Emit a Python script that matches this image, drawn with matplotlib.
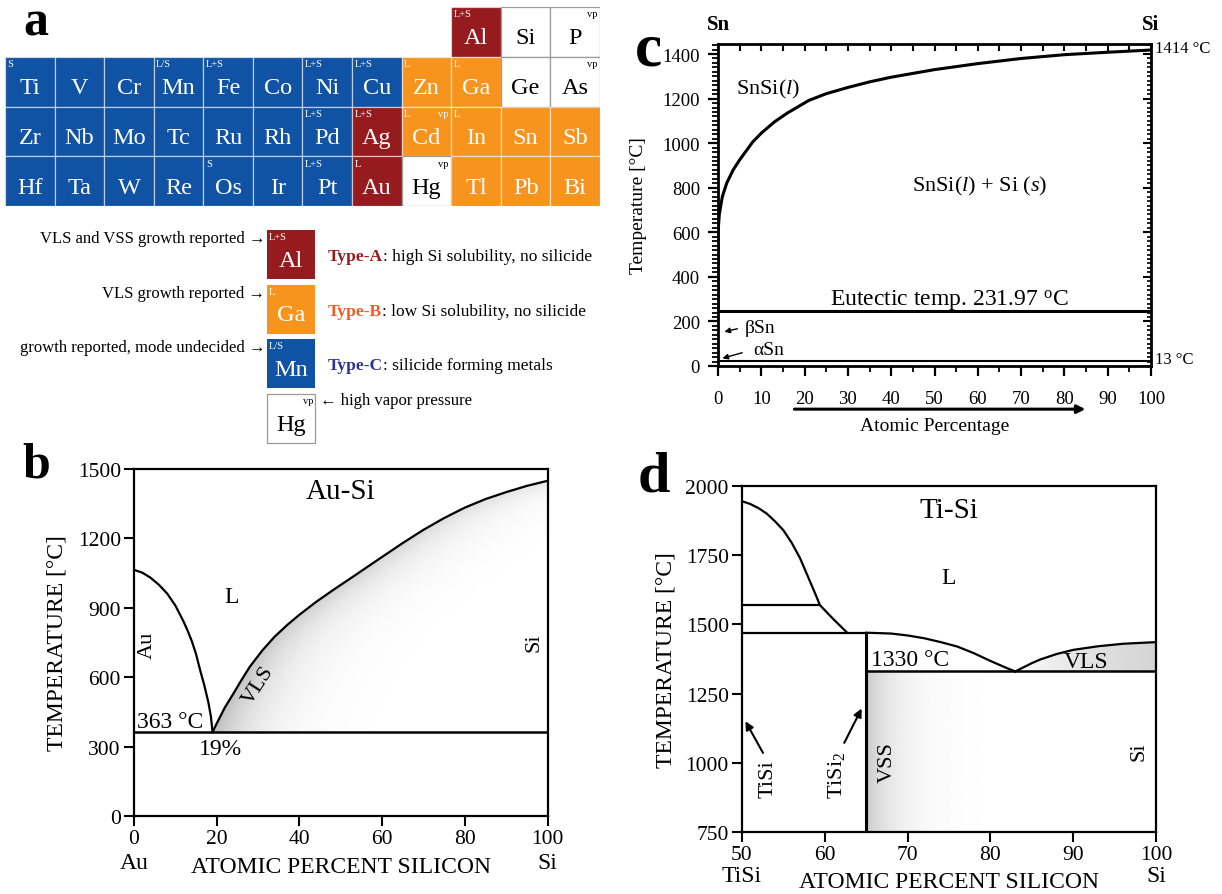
import numpy as np
import matplotlib.pyplot as plt
from matplotlib.patches import Rectangle, Polygon

plt.rcParams['font.family'] = ['Liberation Serif', 'DejaVu Serif']
plt.rcParams['mathtext.fontset'] = 'custom'
plt.rcParams['mathtext.rm'] = 'Liberation Serif'
plt.rcParams['mathtext.it'] = 'Liberation Serif:italic'

W, H = 1222, 895

# ---------------- panel a : periodic table ----------------
table_rows = [
    ['', '', '', '', '', '', '', '', '', 'Al', 'Si', 'P'],
    ['Ti', 'V', 'Cr', 'Mn', 'Fe', 'Co', 'Ni', 'Cu', 'Zn', 'Ga', 'Ge', 'As'],
    ['Zr', 'Nb', 'Mo', 'Tc', 'Ru', 'Rh', 'Pd', 'Ag', 'Cd', 'In', 'Sn', 'Sb'],
    ['Hf', 'Ta', 'W', 'Re', 'Os', 'Ir', 'Pt', 'Au', 'Hg', 'Tl', 'Pb', 'Bi'],
]
# A = type-A (red), B = type-B (orange), C = type-C (blue), N = plain
table_types = [
    '.........ANN',
    'CCCCCCCCBBNN',
    'CCCCCCCABBBB',
    'CCCCCCCANBBB',
]
growth_tags = {'Al': 'L+S', 'Ti': 'S', 'Mn': 'L/S', 'Fe': 'L+S', 'Ni': 'L+S',
               'Cu': 'L+S', 'Zn': 'L', 'Ga': 'L', 'Pd': 'L+S', 'Ag': 'L+S',
               'Cd': 'L', 'In': 'L', 'Os': 'S', 'Pt': 'L+S', 'Au': 'L'}
vapor_tags = ['P', 'As', 'Cd', 'Hg']

type_colors = {'A': '#961b1e', 'B': '#f7941e', 'C': '#1052a4', 'N': 'white'}
type_text_colors = {'A': '#961b1e', 'B': '#f15a24', 'C': '#2e3192'}

legend_symbols = ['Al', 'Ga', 'Mn', 'Hg']
legend_types = ['A', 'B', 'C', 'N']
legend_tags = ['L+S', 'L', 'L/S', '']
legend_left = ['VLS and VSS growth reported', 'VLS growth reported',
               'growth reported, mode undecided', '']
legend_names = ['Type-A', 'Type-B', 'Type-C', '']
legend_desc = [': high Si solubility, no silicide', ': low Si solubility, no silicide',
               ': silicide forming metals', '']

# ---------------- panel b : Au-Si ----------------
b_au_x = [0, 2, 4, 6, 8, 10, 12, 13, 14, 15, 16, 17, 18, 18.6, 19]
b_au_T = [1064, 1052, 1030, 1000, 962, 910, 840, 800, 755, 700, 630, 565, 490, 430, 363]
b_si_x = [19, 20, 22, 24, 26, 28, 31, 34, 37, 40, 44, 48, 53, 60, 65, 70, 75, 80, 85, 90, 95, 100]
b_si_T = [363, 400, 470, 528, 588, 645, 715, 775, 825, 870, 925, 975, 1035, 1120, 1180, 1237,
          1288, 1333, 1370, 1400, 1427, 1449]
b_eutectic = 363

# ---------------- panel c : Sn-Si ----------------
c_x = [0, 0, 0.3, 1, 2, 3.5, 5, 6.5, 8, 10, 13, 16, 21, 25, 30, 35, 40, 50, 60, 70, 80, 90, 100]
c_T = [248, 600, 680, 760, 820, 880, 925, 965, 1005, 1045, 1095, 1135, 1192, 1222, 1250, 1275,
       1296, 1330, 1357, 1380, 1397, 1408, 1418]
c_eutectic = 248
c_alpha = 22

# ---------------- panel d : Ti-Si ----------------
d_top_x = [50, 51, 52, 53, 54, 55, 56, 57, 58, 59, 59.4, 61, 62.7]
d_top_T = [1945, 1935, 1920, 1900, 1872, 1840, 1795, 1740, 1670, 1600, 1570, 1520, 1470]
d_mid_x = [65, 68, 70, 72, 74, 76, 78, 80, 82, 83]
d_mid_T = [1470, 1467, 1460, 1450, 1436, 1420, 1396, 1368, 1342, 1330]
d_right_x = [83, 84, 85, 86, 88, 90, 93, 96, 100]
d_right_T = [1330, 1345, 1360, 1373, 1393, 1408, 1421, 1430, 1436]
d_level_upper = 1570
d_level_peritectic = 1470
d_eutectic = 1330
d_tisi2 = 65

fig = plt.figure(figsize=(W / 100, H / 100), dpi=100)


def fig_axes(x0, y0, x1, y1):
    return fig.add_axes([x0 / W, 1 - y1 / H, (x1 - x0) / W, (y1 - y0) / H])


# ---- table
ax_t = fig_axes(5, 8, 600, 207)
ax_t.set_xlim(0, 12)
ax_t.set_ylim(4, 0)
ax_t.axis('off')
for i, row in enumerate(table_rows):
    for j, sym in enumerate(row):
        kind = table_types[i][j]
        if kind == '.':
            continue
        edge = '#9a9a9a' if kind == 'N' else (1, 1, 1, 0.55)
        ax_t.add_patch(Rectangle((j, i), 1, 1, fc=type_colors[kind], ec=edge, lw=0.9))
        tc = 'black' if kind == 'N' else 'white'
        ax_t.text(j + 0.5, i + 0.62, sym, ha='center', va='center', size=17.5, color=tc)
        if sym in growth_tags:
            ax_t.text(j + 0.05, i + 0.05, growth_tags[sym], ha='left', va='top', size=7.5, color=tc)
        if sym in vapor_tags:
            ax_t.text(j + 0.95, i + 0.05, 'vp', ha='right', va='top', size=7.5, color=tc)

# ---- legend of panel a
ax_l = fig_axes(0, 210, 620, 450)
ax_l.set_xlim(0, 620)
ax_l.set_ylim(450, 210)
ax_l.axis('off')
for k, sym in enumerate(legend_symbols):
    top = 231 + k * 54.7
    kind = legend_types[k]
    edge = '#9a9a9a' if kind == 'N' else 'none'
    ax_l.add_patch(Rectangle((267, top), 48, 49, fc=type_colors[kind], ec=edge, lw=0.9))
    tc = 'black' if kind == 'N' else 'white'
    ax_l.text(291, top + 30, sym, ha='center', va='center', size=17.5, color=tc)
    if legend_tags[k]:
        ax_l.text(269, top + 2, legend_tags[k], ha='left', va='top', size=7.5, color=tc)
    if legend_left[k]:
        ax_l.text(265, top + 8, legend_left[k] + ' \u2192', ha='right', va='center', size=12)
    if legend_names[k]:
        t1 = ax_l.text(328, top + 26, legend_names[k], ha='left', va='center', size=12.5,
                       weight='bold', color=type_text_colors[kind])
        ax_l.annotate(legend_desc[k], xy=(1, 0), xycoords=t1, ha='left', va='bottom', size=12.5)
    if kind == 'N':
        ax_l.text(313, top + 2, 'vp', ha='right', va='top', size=7.5)
        ax_l.text(320, top + 6, '\u2190 high vapor pressure', ha='left', va='center', size=12)

fig.text(36 / W, 1 - 24 / H, 'a', ha='center', va='center', size=36, weight='bold')
fig.text(36 / W, 1 - 466 / H, 'b', ha='center', va='center', size=36, weight='bold')
fig.text(648 / W, 1 - 50 / H, 'c', ha='center', va='center', size=44, weight='bold')
fig.text(654 / W, 1 - 478 / H, 'd', ha='center', va='center', size=42, weight='bold')


def phase_axes(ax):
    for s in ax.spines.values():
        s.set_linewidth(1.6)
    ax.tick_params(direction='out', length=7, width=1.5, labelsize=15.5, pad=2.5,
                   top=False, right=False)


# ---- panel b
ax_b = fig_axes(134, 470, 547.5, 817)
ax_b.set_xlim(0, 100)
ax_b.set_ylim(0, 1500)
ax_b.set_xticks(np.arange(0, 101, 20))
ax_b.set_yticks(np.arange(0, 1501, 300))
phase_axes(ax_b)

gx, gT = np.meshgrid(np.linspace(19, 100, 400), np.linspace(b_eutectic, 1500, 400))
dist = np.clip(gx - np.interp(gT, b_si_T, b_si_x), 0, None)
shade = 0.26 * np.exp(-dist / 9.0) * (1 - 0.55 * (gT - b_eutectic) / 1100)
img = ax_b.imshow(1 - shade, extent=[19, 100, b_eutectic, 1500], origin='lower',
                  aspect='auto', cmap='gray', vmin=0, vmax=1, interpolation='bilinear', zorder=1)
clip_b = Polygon(list(zip(b_si_x, b_si_T)) + [(100, b_eutectic)], closed=True,
                 fc='none', ec='none', transform=ax_b.transData)
ax_b.add_patch(clip_b)
img.set_clip_path(clip_b)

ax_b.plot(b_au_x, b_au_T, color='black', lw=1.6, zorder=3)
ax_b.plot(b_si_x, b_si_T, color='black', lw=1.6, zorder=3)
ax_b.axhline(b_eutectic, color='black', lw=1.8, zorder=3)

ax_b.text(50, 1406, 'Au-Si', ha='center', va='center', size=21)
ax_b.text(23.6, 947, 'L', ha='center', va='center', size=17)
ax_b.text(3.1, 744, 'Au', ha='center', va='center', size=16, rotation=90)
ax_b.text(96.7, 753, 'Si', ha='center', va='center', size=16, rotation=90)
ax_b.text(30.2, 568, 'VLS', ha='center', va='center', size=16, rotation=57)
ax_b.text(8.8, 408, '363 \u00b0C', ha='center', va='center', size=17)
ax_b.text(20.8, 290, '19%', ha='center', va='center', size=17)

xtr = ax_b.get_xaxis_transform()
ax_b.text(0, -0.133, 'Au', transform=xtr, ha='center', va='center', size=17)
ax_b.text(100, -0.133, 'Si', transform=xtr, ha='center', va='center', size=17)
ax_b.text(50, -0.145, 'ATOMIC PERCENT SILICON', transform=xtr, ha='center', va='center', size=17)
ax_b.text(-0.186, 0.5, 'TEMPERATURE [\u00b0C]', transform=ax_b.transAxes, ha='center',
          va='center', size=17, rotation=90)

# ---- panel c
ax_c = fig_axes(718, 45, 1151, 367)
ax_c.set_xlim(0, 100)
ax_c.set_ylim(0, 1445)
for s in ax_c.spines.values():
    s.set_linewidth(2)
major_x, minor_x = np.arange(0, 101, 10), np.arange(0, 101, 5)
major_y, minor_y = np.arange(0, 1401, 200), np.arange(0, 1441, 20)
ax_c.set_xticks(major_x)
ax_c.set_xticks(minor_x, minor=True)
ax_c.set_yticks(major_y)
ax_c.set_yticks(minor_y, minor=True)
ax_c.tick_params(which='major', direction='out', length=7, width=1.6, labelsize=13.5)
ax_c.tick_params(axis='x', which='major', pad=10)
ax_c.tick_params(axis='y', which='major', pad=6)
ax_c.tick_params(which='minor', direction='out', length=4, width=1.3)
sec_x = ax_c.secondary_xaxis('top')
sec_x.set_xticks(major_x, labels=[])
sec_x.set_xticks(minor_x, minor=True)
sec_x.tick_params(which='both', direction='in', length=5, width=1.5)
sec_y = ax_c.secondary_yaxis('right')
sec_y.set_yticks(major_y, labels=[])
sec_y.set_yticks(minor_y, minor=True)
sec_y.tick_params(which='major', direction='in', length=6, width=1.5)
sec_y.tick_params(which='minor', direction='in', length=3, width=1.2)

ax_c.plot(c_x, c_T, color='black', lw=2.2)
ax_c.axhline(c_eutectic, color='black', lw=2.2)
ax_c.axhline(c_alpha, color='black', lw=1.5)

ax_c.text(11.5, 1246, r'SnSi($\mathit{l}$)', ha='center', va='center', size=16)
ax_c.text(60.5, 811, r'SnSi($\mathit{l}$) + Si ($\mathit{s}$)', ha='center', va='center', size=16)
ax_c.text(53.5, 300, r'Eutectic temp. 231.97 $^{\mathrm{o}}$C', ha='center', va='center', size=17)
ax_c.text(6.2, 175, '\u03b2Sn', ha='left', va='center', size=14)
ax_c.text(8.1, 72, '\u03b1Sn', ha='left', va='center', size=14)
ax_c.annotate('', xy=(0.85, 151), xytext=(5.1, 170),
              arrowprops=dict(arrowstyle='-|>', lw=1, color='black', mutation_scale=8))
ax_c.annotate('', xy=(0.4, 31), xytext=(6.2, 63),
              arrowprops=dict(arrowstyle='-|>', lw=1, color='black', mutation_scale=8))

ytr = ax_c.get_yaxis_transform()
ax_c.text(1.01, 1427, '1414 \u00b0C', transform=ytr, ha='left', va='center', size=12)
ax_c.text(1.01, 31, '13 \u00b0C', transform=ytr, ha='left', va='center', size=12)
xtc = ax_c.get_xaxis_transform()
ax_c.text(0, 1.062, 'Sn', transform=xtc, ha='center', va='center', size=15, weight='bold')
ax_c.text(100, 1.062, 'Si', transform=xtc, ha='center', va='center', size=15, weight='bold')
ax_c.annotate('', xy=(85.5, -0.134), xytext=(17, -0.134), xycoords=xtc, textcoords=xtc,
              arrowprops=dict(arrowstyle='-|>', lw=2.2, color='black', mutation_scale=12))
ax_c.text(50, -0.186, 'Atomic Percentage', transform=xtc, ha='center', va='center', size=14)
ax_c.text(-0.183, 0.5, 'Temperature [\u00b0C]', transform=ax_c.transAxes, ha='center',
          va='center', size=14, rotation=90)

# ---- panel d
ax_d = fig_axes(742, 487, 1156, 833)
ax_d.set_xlim(50, 100)
ax_d.set_ylim(750, 2000)
ax_d.set_xticks(np.arange(50, 101, 10))
ax_d.set_yticks(np.arange(750, 2001, 250))
phase_axes(ax_d)

vx, vT = np.meshgrid(np.linspace(d_tisi2, 100, 300), np.linspace(750, d_eutectic, 50))
ax_d.imshow(1 - 0.21 * np.exp(-(vx - d_tisi2) / 3.5), extent=[d_tisi2, 100, 750, d_eutectic],
            origin='lower', aspect='auto', cmap='gray', vmin=0, vmax=1,
            interpolation='bilinear', zorder=1)
rx, rT = np.meshgrid(np.linspace(83, 100, 200), np.linspace(d_eutectic, 1440, 50))
img_d = ax_d.imshow(1 - 0.17 * np.clip((rx - 84) / 16, 0, 1) ** 0.6, extent=[83, 100, d_eutectic, 1440],
                    origin='lower', aspect='auto', cmap='gray', vmin=0, vmax=1,
                    interpolation='bilinear', zorder=1)
clip_d = Polygon(list(zip(d_right_x, d_right_T)) + [(100, d_eutectic)], closed=True,
                 fc='none', ec='none', transform=ax_d.transData)
ax_d.add_patch(clip_d)
img_d.set_clip_path(clip_d)

ax_d.plot(d_top_x, d_top_T, color='black', lw=1.6, zorder=3)
ax_d.plot(d_mid_x, d_mid_T, color='black', lw=1.6, zorder=3)
ax_d.plot(d_right_x, d_right_T, color='black', lw=1.6, zorder=3)
ax_d.hlines(d_level_upper, 50, 59.4, color='black', lw=1.6, zorder=3)
ax_d.hlines(d_level_peritectic, 50, d_tisi2, color='black', lw=1.6, zorder=3)
ax_d.hlines(d_eutectic, d_tisi2, 100, color='black', lw=1.8, zorder=3)
ax_d.vlines(d_tisi2, 750, d_level_peritectic, color='black', lw=2.2, zorder=3)

ax_d.text(75, 1913, 'Ti-Si', ha='center', va='center', size=21)
ax_d.text(75, 1671, 'L', ha='center', va='center', size=17)
ax_d.text(70.3, 1372, '1330 \u00b0C', ha='center', va='center', size=17)
ax_d.text(91.6, 1366, 'VLS', ha='center', va='center', size=17)
ax_d.text(67.6, 1003, 'VSS', ha='center', va='center', size=16, rotation=90)
ax_d.text(98, 1043, 'Si', ha='center', va='center', size=16, rotation=90)
ax_d.text(53.1, 943, 'TiSi', ha='center', va='center', size=16, rotation=90)
ax_d.text(61.4, 960, 'TiSi$_2$', ha='center', va='center', size=16, rotation=90)
ax_d.annotate('', xy=(50.25, 1159), xytext=(52.7, 1027),
              arrowprops=dict(arrowstyle='-|>', lw=1.5, color='black', mutation_scale=12))
ax_d.annotate('', xy=(64.6, 1205), xytext=(62.2, 1063),
              arrowprops=dict(arrowstyle='-|>', lw=1.5, color='black', mutation_scale=12))

xtd = ax_d.get_xaxis_transform()
ax_d.text(50, -0.127, 'TiSi', transform=xtd, ha='center', va='center', size=17)
ax_d.text(100, -0.127, 'Si', transform=xtd, ha='center', va='center', size=17)
ax_d.text(75, -0.142, 'ATOMIC PERCENT SILICON', transform=xtd, ha='center', va='center', size=17)
ax_d.text(-0.184, 0.5, 'TEMPERATURE [\u00b0C]', transform=ax_d.transAxes, ha='center',
          va='center', size=17, rotation=90)

fig.savefig('out.png', dpi=100)
